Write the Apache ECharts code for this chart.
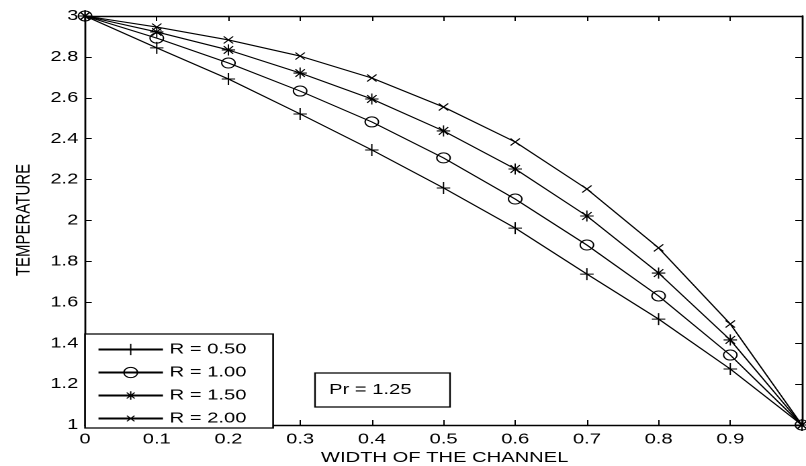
<!DOCTYPE html>
<html>
<head>
<meta charset="utf-8">
<script src="https://cdn.jsdelivr.net/npm/echarts@6/dist/echarts.min.js"></script>
<style>
  html, body { margin: 0; padding: 0; background: #fff; overflow: hidden; }
  #wrap { width: 806px; height: 466px; overflow: hidden; }
  /* The figure is laid out on a 600px-wide canvas and widened to 806px,
     giving the horizontally stretched look of the exported plot. */
  #chart { width: 600px; height: 466px; transform: scaleX(1.34333); transform-origin: 0 0; }
</style>
</head>
<body>
<div id="wrap"><div id="chart"></div></div>
<script>
// Channel width positions
const widthPositions = [0, 0.1, 0.2, 0.3, 0.4, 0.5, 0.6, 0.7, 0.8, 0.9, 1.0];

// Temperature profiles for each R (Pr = 1.25)
const tempR050 = [3.00, 2.844, 2.692, 2.521, 2.345, 2.159, 1.963, 1.738, 1.518, 1.274, 1.00];
const tempR100 = [3.00, 2.892, 2.770, 2.633, 2.482, 2.306, 2.105, 1.880, 1.631, 1.342, 1.00];
const tempR150 = [3.00, 2.922, 2.834, 2.721, 2.594, 2.438, 2.252, 2.022, 1.743, 1.416, 1.00];
const tempR200 = [3.00, 2.946, 2.883, 2.804, 2.697, 2.555, 2.384, 2.154, 1.866, 1.494, 1.00];

const seriesNames = ['R = 0.50', 'R = 1.00', 'R = 1.50', 'R = 2.00'];
const seriesValues = [tempR050, tempR100, tempR150, tempR200];

// Axis ranges
const xMin = 0, xMax = 1, xStep = 0.1;
const yMin = 1, yMax = 3, yStep = 0.2;

const annotationText = 'Pr = 1.25';
const xTitle = 'WIDTH OF THE CHANNEL';
const yTitle = 'TEMPERATURE';

const FONT = 'Liberation Sans, Arial, Helvetica, sans-serif';

// Marker shapes: plus, circle, asterisk, cross.
// Zero-length segments at the corners pad the bounding box so the
// glyph keeps a sensible size inside the square legend icon.
const markers = [
  'path://M0,0L0,0M12,12L12,12M1,6L11,6M6,0L6,12',
  'path://M0,0L0,0M11,11L11,11M0.5,5.5A5,5,0,1,1,10.5,5.5A5,5,0,1,1,0.5,5.5Z',
  'path://M0,0L0,0M16,16L16,16M2,8L14,8M8,2L8,14M3.8,3.8L12.2,12.2M3.8,12.2L12.2,3.8',
  'path://M0,0L0,0M16,16L16,16M4,4L12,12M4,12L12,4'
];
const markerSizes = [[12, 12], [11, 11], [13.3, 14.7], [14, 14]];

const chart = echarts.init(document.getElementById('chart'), null, { renderer: 'canvas', devicePixelRatio: 2 });

const axisLineStyle = { show: true, onZero: false, lineStyle: { color: '#000', width: 1.4 } };
const tickStyle = { show: true, inside: true, length: 5, lineStyle: { color: '#000', width: 1 } };

const option = {
  animation: false,
  backgroundColor: '#fff',
  grid: { left: 63.3, right: 0.5, top: 16, bottom: 41, containLabel: false },
  xAxis: [
    {
      type: 'value', min: xMin, max: xMax, interval: xStep, position: 'bottom',
      axisLine: axisLineStyle,
      axisTick: tickStyle,
      axisLabel: {
        show: true, margin: 7, color: '#000', fontSize: 15, fontFamily: FONT,
        formatter: v => (Math.abs(v - xMax) < 1e-9 ? '' : String(Math.round(v * 10) / 10))
      },
      splitLine: { show: false }
    },
    {
      type: 'value', min: xMin, max: xMax, interval: xStep, position: 'top',
      axisLine: axisLineStyle,
      axisTick: tickStyle,
      axisLabel: { show: false },
      splitLine: { show: false }
    }
  ],
  yAxis: [
    {
      type: 'value', min: yMin, max: yMax, interval: yStep, position: 'left',
      axisLine: axisLineStyle,
      axisTick: tickStyle,
      axisLabel: {
        show: true, margin: 5, color: '#000', fontSize: 15, fontFamily: FONT,
        formatter: v => String(Math.round(v * 10) / 10)
      },
      splitLine: { show: false }
    },
    {
      type: 'value', min: yMin, max: yMax, interval: yStep, position: 'right',
      axisLine: axisLineStyle,
      axisTick: tickStyle,
      axisLabel: { show: false },
      splitLine: { show: false }
    }
  ],
  legend: {
    orient: 'vertical',
    left: 63.3, top: 334,
    padding: [8, 0, 0, 9],
    itemWidth: 48, itemHeight: 14, itemGap: 8,
    z: 6,
    selectedMode: false,
    textStyle: { color: '#000', fontSize: 15, fontFamily: FONT },
    itemStyle: { borderWidth: 1 },
    data: seriesNames
  },
  graphic: [
    {
      type: 'rect', z: 5,
      shape: { x: 63.3, y: 334, width: 140, height: 94 },
      style: { fill: '#fff', stroke: '#000', lineWidth: 1.3 }
    },
    {
      type: 'rect', z: 5,
      shape: { x: 234.5, y: 373, width: 100.5, height: 34 },
      style: { fill: '#fff', stroke: '#000', lineWidth: 1.2 }
    },
    {
      type: 'text', z: 6, x: 245, y: 390,
      style: { text: annotationText, fill: '#000', font: '15px ' + FONT, textAlign: 'left', textVerticalAlign: 'middle' }
    },
    {
      type: 'text', z: 6, x: 331, y: 458,
      style: { text: xTitle, fill: '#000', font: '15px ' + FONT, textAlign: 'center', textVerticalAlign: 'middle' }
    },
    {
      type: 'text', z: 6, x: 18, y: 220, rotation: Math.PI / 2,
      style: { text: yTitle, fill: '#000', font: '15px ' + FONT, textAlign: 'center', textVerticalAlign: 'middle' }
    }
  ],
  series: seriesNames.map((name, i) => ({
    name: name,
    type: 'line',
    xAxisIndex: 0, yAxisIndex: 0,
    data: widthPositions.map((x, k) => [x, seriesValues[i][k]]),
    symbol: markers[i],
    symbolSize: markerSizes[i],
    showAllSymbol: true,
    smooth: false,
    clip: false,
    z: 3,
    color: '#000',
    lineStyle: { color: '#000', width: 1.1 },
    itemStyle: { color: 'transparent', borderColor: '#000', borderWidth: 1 },
    emphasis: { disabled: true }
  }))
};

chart.setOption(option);
</script>
</body>
</html>
